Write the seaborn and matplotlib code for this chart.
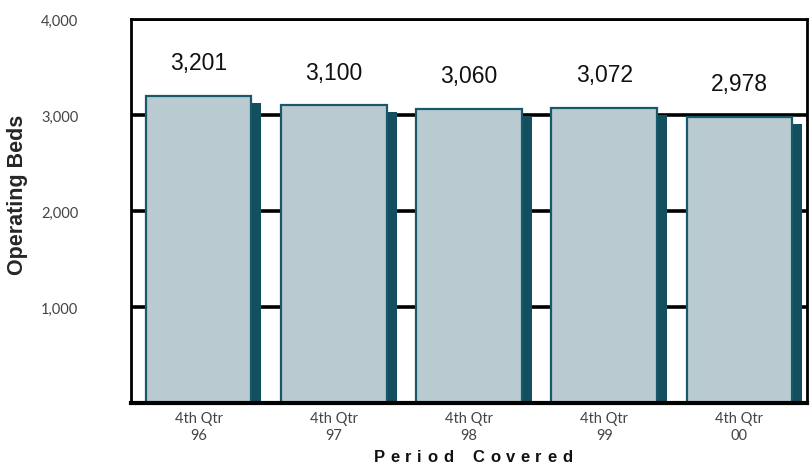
import matplotlib
matplotlib.use("Agg")
import matplotlib.pyplot as plt
import matplotlib.transforms as mtransforms
from matplotlib.textpath import TextToPath
from matplotlib.font_manager import FontProperties
import seaborn as sns
import pandas as pd

# ---- data ----
periods = ["4th Qtr\n96", "4th Qtr\n97", "4th Qtr\n98", "4th Qtr\n99", "4th Qtr\n00"]
beds = [3201, 3100, 3060, 3072, 2978]
y_ticks = [1000, 2000, 3000, 4000]
y_tick_labels = ["1,000", "2,000", "3,000", "4,000"]
x_title = "Period Covered"
y_title = "Operating Beds"

df = pd.DataFrame({"period": periods, "beds": beds})

sns.set_style("white")
plt.rcParams["font.family"] = ["Liberation Sans", "DejaVu Sans"]

fig = plt.figure(figsize=(8.12, 4.64), dpi=100)
ax = fig.add_axes([131 / 812, 1 - 404 / 464, 676 / 812, 384 / 464])

face = "#B9CBD1"
edge = "#17596A"
shadow = "#12505F"

# shadow bars (offset to the lower right)
sns.barplot(data=df, x="period", y="beds", color=shadow, width=0.78,
            saturation=1, ax=ax, zorder=2, linewidth=0, errorbar=None)
n_shadow = len(ax.patches)
off = mtransforms.ScaledTranslation(10 / 100, -7 / 100, fig.dpi_scale_trans)
for p in ax.patches[:n_shadow]:
    p.set_transform(ax.transData + off)

# front bars
sns.barplot(data=df, x="period", y="beds", color=face, width=0.78,
            saturation=1, ax=ax, zorder=3, edgecolor=edge, linewidth=1.6,
            errorbar=None)
front = ax.patches[n_shadow:]

for p, v in zip(front, beds):
    ax.annotate(f"{v:,}", (p.get_x() + p.get_width() / 2, v),
                xytext=(0, 24), textcoords="offset points", ha="center",
                va="center", fontsize=16.5, color="#111111", zorder=5)

ax.set_xlim(-0.5, 4.5)
ax.set_ylim(0, 4000)
ax.set_yticks(y_ticks)
ax.set_yticklabels(y_tick_labels)
ax.yaxis.grid(True, color="black", linewidth=2.6)
ax.xaxis.grid(False)
ax.set_axisbelow(True)

for lab in ax.get_yticklabels():
    lab.set_family(["Lato", "DejaVu Sans"])
    lab.set_fontsize(10.5)
    lab.set_color("#444444")
for lab in ax.get_xticklabels():
    lab.set_family(["Lato", "DejaVu Sans"])
    lab.set_fontsize(10.5)
    lab.set_color("#444444")
    lab.set_linespacing(1.25)
ax.tick_params(axis="y", length=0, pad=38)
ax.tick_params(axis="x", length=0, pad=6)

for s in ["left", "top", "right"]:
    ax.spines[s].set_visible(True)
    ax.spines[s].set_color("black")
    ax.spines[s].set_linewidth(2)
ax.spines["bottom"].set_color("black")
ax.spines["bottom"].set_linewidth(3)
for s in ax.spines.values():
    s.set_zorder(6)

ax.set_xlabel("")
ax.set_ylabel(y_title, fontsize=15.5, fontweight="bold", labelpad=0)
ax.yaxis.set_label_coords(-131 / 676 + 28 / 676, (404 - 195) / 384)

# letter-spaced x title
fp = FontProperties(family="Liberation Sans", weight="bold", size=12)
ttp = TextToPath()
px_per_pt = 100 / 72
tracking = 5.5  # px between letters
widths = []
for ch in x_title:
    if ch == " ":
        widths.append(ttp.get_text_width_height_descent("a", fp, ismath=False)[0] * px_per_pt * 0.9)
    else:
        widths.append(ttp.get_text_width_height_descent(ch, fp, ismath=False)[0] * px_per_pt)
total = sum(widths) + tracking * (len(x_title) - 1)
x = 473 - total / 2
for ch, w in zip(x_title, widths):
    if ch != " ":
        fig.text(x / 812, 1 - 458 / 464, ch, ha="left", va="center",
                 fontproperties=fp, color="#111111")
    x += w + tracking

fig.savefig("out.png", dpi=100)
